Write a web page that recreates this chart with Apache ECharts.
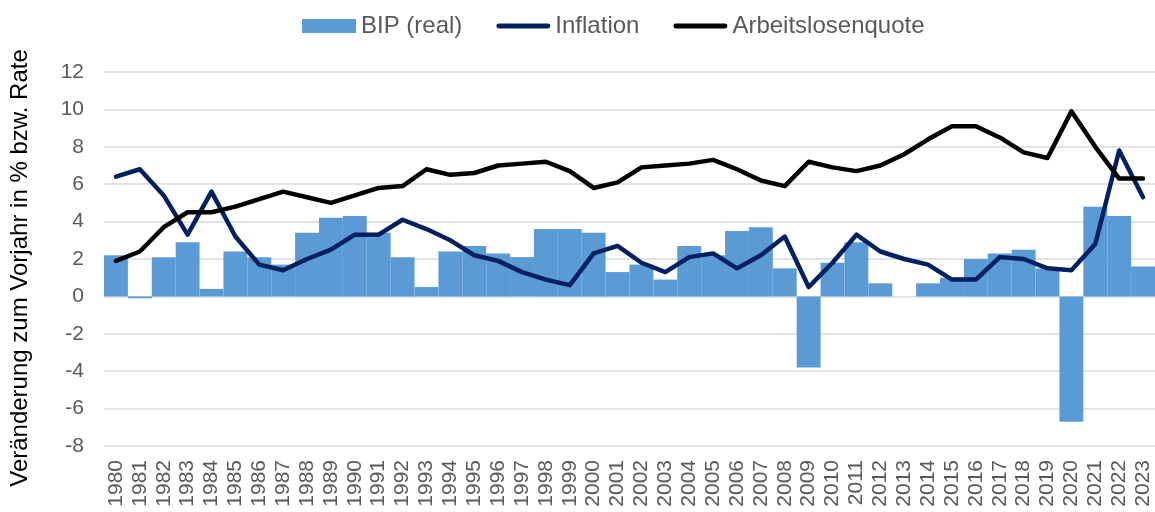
<!DOCTYPE html>
<html>
<head>
<meta charset="utf-8">
<script src="https://cdn.jsdelivr.net/npm/echarts@6/dist/echarts.min.js"></script>
<style>
html,body{margin:0;padding:0;background:#fff;}
#chart{width:1155px;height:512px;}
</style>
</head>
<body>
<div id="chart"></div>
<script>
const years = ["1980","1981","1982","1983","1984","1985","1986","1987","1988","1989",
  "1990","1991","1992","1993","1994","1995","1996","1997","1998","1999",
  "2000","2001","2002","2003","2004","2005","2006","2007","2008","2009",
  "2010","2011","2012","2013","2014","2015","2016","2017","2018","2019",
  "2020","2021","2022","2023"];
const bipReal = [2.2,-0.1,2.1,2.9,0.4,2.4,2.1,1.7,3.4,4.2,
  4.3,3.4,2.1,0.5,2.4,2.7,2.3,2.1,3.6,3.6,
  3.4,1.3,1.7,0.9,2.7,2.2,3.5,3.7,1.5,-3.8,
  1.8,2.9,0.7,0.0,0.7,1.0,2.0,2.3,2.5,1.5,
  -6.7,4.8,4.3,1.6];
const inflation = [6.4,6.8,5.4,3.3,5.6,3.2,1.7,1.4,2.0,2.5,
  3.3,3.3,4.1,3.6,3.0,2.2,1.9,1.3,0.9,0.6,
  2.3,2.7,1.8,1.3,2.1,2.3,1.5,2.2,3.2,0.5,
  1.8,3.3,2.4,2.0,1.7,0.9,0.9,2.1,2.0,1.5,
  1.4,2.8,7.8,5.3];
const arbeitslosenquote = [1.9,2.4,3.7,4.5,4.5,4.8,5.2,5.6,5.3,5.0,
  5.4,5.8,5.9,6.8,6.5,6.6,7.0,7.1,7.2,6.7,
  5.8,6.1,6.9,7.0,7.1,7.3,6.8,6.2,5.9,7.2,
  6.9,6.7,7.0,7.6,8.4,9.1,9.1,8.5,7.7,7.4,
  9.9,8.0,6.3,6.3];
const seriesNames = ["BIP (real)","Inflation","Arbeitslosenquote"];
const yAxisTitle = "Veränderung zum Vorjahr in % bzw. Rate";

const font = "'Liberation Sans', Arial, sans-serif";
const chart = echarts.init(document.getElementById('chart'), null, {renderer:'canvas'});
const lineIcon = 'path://M2.5,0 h50 a2.5,2.5 0 0 1 0,5 h-50 a2.5,2.5 0 0 1 0,-5 z';
chart.setOption({
  animation: false,
  backgroundColor: '#ffffff',
  textStyle: {fontFamily: font},
  legend: {
    left: 297, top: 9,
    itemWidth: 54, itemHeight: 14, itemGap: 34,
    textStyle: {fontSize: 24, color: '#595959', fontFamily: font},
    data: [
      {name: seriesNames[0], icon: 'rect'},
      {name: seriesNames[1], icon: lineIcon},
      {name: seriesNames[2], icon: lineIcon}
    ]
  },
  grid: {left: 104, right: 0, top: 72, bottom: 66, containLabel: false},
  xAxis: {
    type: 'category',
    data: years,
    boundaryGap: true,
    axisLine: {show: false},
    axisTick: {show: false},
    axisLabel: {rotate: 90, fontSize: 21, color: '#595959', margin: 14, interval: 0, fontFamily: font}
  },
  yAxis: {
    type: 'value',
    min: -8, max: 12, interval: 2,
    name: yAxisTitle,
    nameLocation: 'middle',
    nameGap: 72,
    nameTextStyle: {fontSize: 24, color: '#000000', fontFamily: font, padding: [0, 18, 0, 0]},
    axisLine: {show: false},
    axisTick: {show: false},
    axisLabel: {fontSize: 21, color: '#595959', margin: 20, fontFamily: font},
    splitLine: {show: true, lineStyle: {color: '#D9D9D9', width: 1.5}}
  },
  series: [
    {
      name: seriesNames[0], type: 'bar', data: bipReal,
      barCategoryGap: '0%',
      itemStyle: {color: '#5B9BD5'}
    },
    {
      name: seriesNames[1], type: 'line', data: inflation,
      symbol: 'none',
      lineStyle: {color: '#002060', width: 4.5, cap: 'round', join: 'round'},
      itemStyle: {color: '#002060'}
    },
    {
      name: seriesNames[2], type: 'line', data: arbeitslosenquote,
      symbol: 'none',
      lineStyle: {color: '#000000', width: 4.5, cap: 'round', join: 'round'},
      itemStyle: {color: '#000000'}
    }
  ]
});
</script>
</body>
</html>
